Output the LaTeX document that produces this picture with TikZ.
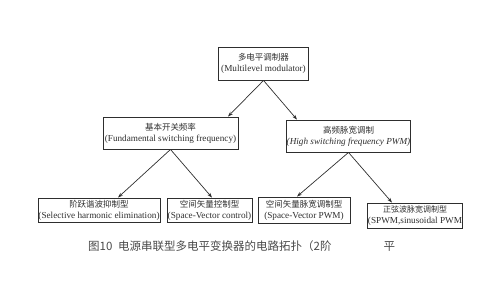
\documentclass[tikz,border=0pt]{standalone}
\usepackage{fontspec}
\setmainfont{Liberation Serif}
\newfontfamily\cjk{Noto Sans CJK SC}
\usetikzlibrary{arrows.meta, positioning, calc}
\definecolor{mLine}{HTML}{2E2E2E}
\definecolor{mCap}{HTML}{4A4A4A}

\begin{document}
\begin{tikzpicture}[x=1pt, y=-1pt,
      bx/.style={draw=mLine, line width=0.9pt, align=center, inner sep=0.5pt, text=mLine,
        font=\fontsize{9.2}{11}\selectfont},
      zh/.style={},
      ar/.style={mLine, line width=0.7pt, -{Stealth[length=5pt, width=3.5pt]}}]
    \useasboundingbox (0,0) rectangle (491,284);
    % root
    \node[bx, minimum width=90pt, minimum height=33pt] (top) at (263.5,63.5)
      {{\cjk\fontsize{8.5}{11}\selectfont 多电平调制器}\\(Multilevel modulator)};
    % second level
    \node[bx, minimum width=135pt, minimum height=32pt] (b1) at (170.5,133)
      {{\cjk\fontsize{8.5}{11}\selectfont 基本开关频率}\\(Fundamental switching frequency)};
    \node[bx, minimum width=123pt, minimum height=32pt] (b2) at (348.5,136)
      {{\cjk\fontsize{8.5}{11}\selectfont 高频脉宽调制}\\\textit{(High switching frequency PWM)}};
    % third level
    \node[bx, minimum width=118pt, minimum height=24pt] (c1) at (99,210)
      {{\cjk\fontsize{8.5}{10}\selectfont 阶跃谐波抑制型}\\(Selective harmonic elimination)};
    \node[bx, minimum width=85pt, minimum height=24pt] (c2) at (209.5,210)
      {{\cjk\fontsize{8.5}{10}\selectfont 空间矢量控制型}\\(Space-Vector control)};
    \node[bx, minimum width=92pt, minimum height=26pt] (c3) at (304,210)
      {{\cjk\fontsize{8.5}{10}\selectfont 空间矢量脉宽调制型}\\(Space-Vector PWM)};
    \node[bx, minimum width=94pt, minimum height=25pt] (c4) at (415,215.5)
      {{\cjk\fontsize{8}{10}\selectfont 正弦波脉宽调制型}\\(SPWM,sinusoidal PWM};
    \draw[ar] (top.south) -- ([xshift=57.5pt]b1.north);
    \draw[ar] (top.south) -- ([xshift=-51.5pt]b2.north);
    \draw[ar] (b1.south) -- ([xshift=19pt]c1.north);
    \draw[ar] (b1.south) -- ([xshift=2.5pt]c2.north);
    \draw[ar] (b2.south) -- ([xshift=-7pt]c3.north);
    \draw[ar] (b2.south) -- ([xshift=-23pt]c4.north);
    % caption
    \node[font=\cjk\fontsize{11.5}{13}\selectfont, text=mCap, anchor=west, inner sep=0pt] (cap) at (88,246)
      {图10\enspace 电源串联型多电平变换器的电路拓扑（2阶\hspace{52pt}平};
  \end{tikzpicture}
\end{document}
